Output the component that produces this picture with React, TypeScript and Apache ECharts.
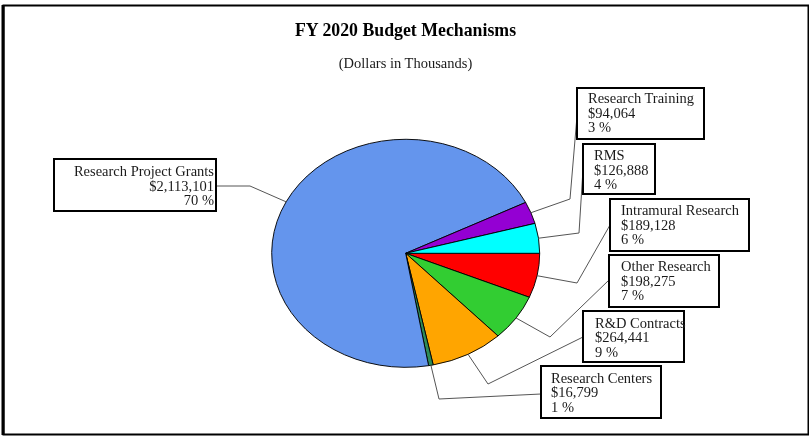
import React, { useEffect, useRef } from "react";
import * as echarts from "echarts";

// ---- data ----
const names = [
  "Research Project Grants",
  "Research Training",
  "RMS",
  "Intramural Research",
  "Other Research",
  "R&D Contracts",
  "Research Centers",
];
const values = [2113101, 94064, 126888, 189128, 198275, 264441, 16799];
const colors = ["#6495ED", "#9400D3", "#00FFFF", "#FF0000", "#32CD32", "#FFA500", "#2E8B57"];
// clockwise drawing order starting at 3 o'clock
const drawOrder = [3, 4, 5, 6, 0, 1, 2];
const titleText = "FY 2020 Budget Mechanisms";
const subtitleText = "(Dollars in Thousands)";

// ---- layout (positions only) ----
const CX = 405.7;
const CY = 253.3;
const RX = 134;
const RY = 114;
const FONT = "Liberation Serif";
const layout = [
  { box: [54, 159, 162, 52], tx: 214, ty: 171, align: "right", knee: [250, 186], end: [216, 186] },
  { box: [577, 88, 127, 51], tx: 588, ty: 98, align: "left", knee: [570, 199], end: [577, 116] },
  { box: [583, 144, 72, 50], tx: 594, ty: 155, align: "left", knee: [579, 233], end: [583, 169] },
  { box: [610, 199, 139, 52], tx: 621, ty: 210, align: "left", knee: [577, 283], end: [610, 225] },
  { box: [609, 255, 110, 52], tx: 621, ty: 266, align: "left", knee: [550, 337], end: [609, 280] },
  { box: [583, 311, 101, 51], tx: 595, ty: 322.5, align: "left", knee: [488, 384], end: [583, 337] },
  { box: [541, 366, 120, 52], tx: 551, ty: 377.5, align: "left", knee: [439, 399], end: [541, 394] },
];

const total = values.reduce((a, b) => a + b, 0);
const fmt = (v: number) => "$" + v.toLocaleString("en-US");

export default function App() {
  const ref = useRef<HTMLDivElement>(null);
  useEffect(() => {
    if (!ref.current) return;
    const chart = echarts.init(ref.current, null, { renderer: "svg" });
    const ordered = drawOrder.map((i) => values[i]);
    const cum: number[] = [];
    let acc = 0;
    ordered.forEach((v) => {
      cum.push(acc);
      acc += v;
    });

    const graphics: any[] = [
      { type: "rect", shape: { x: 3.5, y: 5.5, width: 805, height: 429 }, style: { fill: "#fff", stroke: "#000", lineWidth: 2 }, z: -10 },
      { type: "line", shape: { x1: 3, y1: 5, x2: 3, y2: 435 }, style: { stroke: "#000", lineWidth: 3 }, z: -9 },
      {
        type: "text",
        x: 405.5,
        y: 30,
        style: { text: titleText, font: `bold 17.8px "${FONT}"`, fill: "#000", align: "center", verticalAlign: "middle" },
      },
      {
        type: "text",
        x: 405.5,
        y: 63,
        style: { text: subtitleText, font: `14.5px "${FONT}"`, fill: "#1a1a1a", align: "center", verticalAlign: "middle" },
      },
    ];

    names.forEach((n, i) => {
      const L = layout[i];
      const pct = Math.round((values[i] / total) * 100);
      graphics.push({
        type: "rect",
        shape: { x: L.box[0], y: L.box[1], width: L.box[2], height: L.box[3] },
        style: { fill: "#fff", stroke: "#000", lineWidth: 2 },
        z: 5,
      });
      graphics.push({
        type: "text",
        x: L.tx,
        y: L.ty - 7.3,
        z: 6,
        style: {
          text: `${n}\n${fmt(values[i])}\n${pct} %`,
          font: `14.5px "${FONT}"`,
          lineHeight: 14.6,
          fill: "#1a1a1a",
          align: L.align,
          verticalAlign: "top",
        },
      });
    });

    const option: any = {
      animation: false,
      graphic: { elements: graphics },
      series: [
        {
          type: "custom",
          coordinateSystem: "none",
          data: ordered,
          z: 3,
          renderItem: (params: any, api: any) => {
            const k = params.dataIndex;
            const idx = drawOrder[k];
            const v = api.value(0);
            const a0 = (cum[k] / total) * Math.PI * 2;
            const a1 = ((cum[k] + v) / total) * Math.PI * 2;
            const am = (a0 + a1) / 2;
            const mx = CX + Math.cos(am) * RX;
            const my = CY + Math.sin(am) * RY;
            const L = layout[idx];
            return {
              type: "group",
              children: [
                {
                  type: "sector",
                  x: CX,
                  y: CY,
                  scaleY: RY / RX,
                  shape: { cx: 0, cy: 0, r0: 0, r: RX, startAngle: a0, endAngle: a1, clockwise: true },
                  style: { fill: colors[idx], stroke: "#000", lineWidth: 1 },
                },
                {
                  type: "polyline",
                  shape: { points: [[mx, my], L.knee, L.end] },
                  style: { fill: "none", stroke: "#555", lineWidth: 1 },
                },
              ],
            };
          },
        },
      ],
    };
    chart.setOption(option);
    return () => chart.dispose();
  }, []);
  return <div ref={ref} style={{ position: "fixed", left: 0, top: 0, width: 809, height: 436 }} />;
}
